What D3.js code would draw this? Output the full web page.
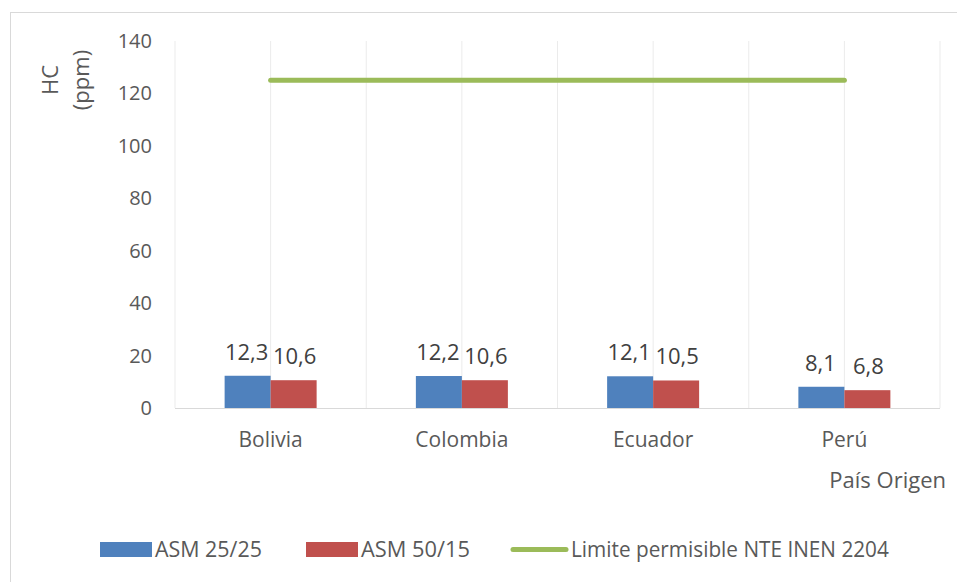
<!DOCTYPE html>
<html><head><meta charset="utf-8">
<script src="https://cdn.jsdelivr.net/npm/d3@7"></script>
<style>body{margin:0;background:#fff}svg{display:block}text{font-family:"Open Sans",sans-serif;fill:#595959}</style>
</head><body><svg id="c" width="957" height="582"></svg>
<script>
const categories = ["Bolivia","Colombia","Ecuador","Perú"];
const asm2525 = [12.3,12.2,12.1,8.1];
const asm5015 = [10.6,10.6,10.5,6.8];
const limite = [125,125,125,125];
const yTicks = [0,20,40,60,80,100,120,140];
const seriesNames = ["ASM 25/25","ASM 50/15","Limite permisible NTE INEN 2204"];
const colors = ["#4F81BD","#C0504D","#9BBB59"];

const svg = d3.select("#c");
const L=175,R=940,T=41,B=408;
svg.append("rect").attr("x",10.5).attr("y",12.5).attr("width",960).attr("height",600).attr("fill","none").attr("stroke","#d9d9d9");
const x = d3.scaleBand().domain(categories).range([L,R]);
const y = d3.scaleLinear().domain([0,140]).range([B,T]);
const fmt = v => String(v).replace(".",",");

const gx = [];
categories.forEach(c=>{gx.push(x(c)); gx.push(x(c)+x.bandwidth()/2);});
gx.push(R);
svg.append("g").selectAll("line").data(gx).join("line")
 .attr("x1",d=>d).attr("x2",d=>d).attr("y1",T).attr("y2",B).attr("stroke","#ebebeb").attr("stroke-width",1);
svg.append("line").attr("x1",L).attr("x2",R).attr("y1",B+0.5).attr("y2",B+0.5).attr("stroke","#d9d9d9");

svg.append("g").selectAll("text").data(yTicks).join("text")
 .attr("x",152).attr("y",d=>y(d)).attr("dy","0.35em").attr("text-anchor","end").attr("font-size",20).text(d=>d);

const bw = 46;
const bars = [asm2525, asm5015];
bars.forEach((arr,si)=>{
  svg.append("g").selectAll("rect").data(arr).join("rect")
   .attr("x",(d,i)=>x(categories[i])+x.bandwidth()/2 - bw + si*bw)
   .attr("y",d=>y(d)).attr("width",bw).attr("height",d=>B-y(d)).attr("fill",colors[si]);
  svg.append("g").selectAll("text").data(arr).join("text")
   .attr("x",(d,i)=>x(categories[i])+x.bandwidth()/2 - bw/2 + si*bw - (si===0?1:-1))
   .attr("y",d=>y(d)-16).attr("text-anchor","middle").attr("font-size",22).style("fill","#404040").text(fmt);
});

const line = d3.line().x((d,i)=>x(categories[i])+x.bandwidth()/2).y(d=>y(d));
svg.append("path").datum(limite).attr("d",line).attr("fill","none").attr("stroke",colors[2]).attr("stroke-width",5).attr("stroke-linecap","round");

svg.append("g").selectAll("text").data(categories).join("text")
 .attr("x",c=>x(c)+x.bandwidth()/2).attr("y",447).attr("text-anchor","middle").attr("font-size",21).text(d=>d);

svg.append("text").attr("x",946).attr("y",488).attr("text-anchor","end").attr("font-size",22).text("País Origen");
const yt = svg.append("text").attr("transform","translate(58,80) rotate(-90)").attr("text-anchor","middle").attr("font-size",22);
yt.append("tspan").attr("x",0).attr("dy",0).text("HC");
yt.append("tspan").attr("x",0).attr("dy",31).text("(ppm)");

const lg = svg.append("g");
const lx=[100,306];
[0,1].forEach(i=>{
  lg.append("rect").attr("x",lx[i]).attr("y",542).attr("width",52).attr("height",15).attr("fill",colors[i]);
});
lg.append("line").attr("x1",513).attr("x2",566).attr("y1",549.5).attr("y2",549.5).attr("stroke",colors[2]).attr("stroke-width",5).attr("stroke-linecap","round");
const tx=[155,361,571], tw=[107,109,318];
seriesNames.forEach((n,i)=>{
  const t = lg.append("text").attr("x",0).attr("y",0).attr("dy","0.35em").attr("font-size",21).text(n);
  const w = t.node().getComputedTextLength();
  t.attr("transform",`translate(${tx[i]},549.5) scale(${tw[i]/w},1)`);
});
</script></body></html>
